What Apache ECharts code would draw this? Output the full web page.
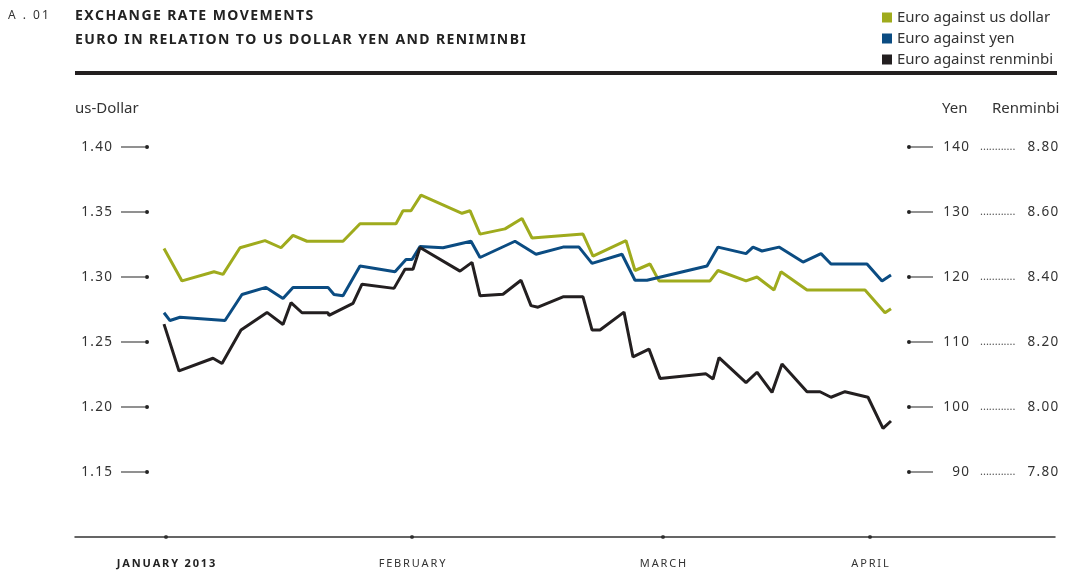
<!DOCTYPE html>
<html>
<head>
<meta charset="utf-8">
<title>Exchange rate movements</title>
<script src="https://cdn.jsdelivr.net/npm/echarts@6/dist/echarts.min.js"></script>
<style>
  html, body { margin: 0; padding: 0; background: #fff; }
  #chart { width: 1069px; height: 585px; }
</style>
</head>
<body>
<div id="chart"></div>
<script>
// position along the period (Jan = 0), month marks on the x axis
const monthTicks = [0, 24.6, 49.7, 70.4]
const monthNames = ['JANUARY 2013', 'FEBRUARY', 'MARCH', 'APRIL']

// euro against us dollar
const usdT = [-0.2, 1.6, 4.8, 5.7, 7.4, 9.9, 11.5, 12.7, 14.1, 17.7, 19.4, 23.0, 23.7, 24.5, 25.5, 29.6, 30.4, 31.4, 33.9, 35.6, 36.6, 41.7, 42.7, 46.0, 46.9, 48.4, 49.3, 54.4, 55.2, 58.0, 59.1, 60.8, 61.5, 64.1, 69.9, 71.9, 72.5]
const usdRate = [1.322, 1.297, 1.304, 1.302, 1.3225, 1.328, 1.3225, 1.332, 1.3275, 1.3275, 1.341, 1.341, 1.351, 1.351, 1.363, 1.349, 1.351, 1.333, 1.337, 1.345, 1.330, 1.333, 1.316, 1.328, 1.305, 1.310, 1.297, 1.297, 1.305, 1.297, 1.300, 1.290, 1.304, 1.290, 1.290, 1.2725, 1.2756]

// euro against yen
const yenT = [-0.2, 0.4, 1.4, 5.9, 7.6, 10.0, 11.7, 12.7, 16.2, 16.8, 17.7, 19.4, 22.9, 24.0, 24.6, 25.4, 27.7, 30.5, 31.4, 34.9, 37.0, 39.7, 41.3, 42.6, 45.6, 46.9, 48.1, 54.1, 55.2, 58.0, 58.7, 59.6, 61.3, 63.7, 65.5, 66.5, 70.1, 71.6, 72.5]
const yenRate = [114.5, 113.3, 113.8, 113.3, 117.3, 118.4, 116.7, 118.4, 118.4, 117.3, 117.1, 121.7, 120.8, 122.7, 122.7, 124.7, 124.5, 125.5, 123.0, 125.5, 123.5, 124.6, 124.6, 122.1, 123.5, 119.5, 119.5, 121.7, 124.6, 123.6, 124.6, 124.0, 124.6, 122.3, 123.6, 122.0, 122.0, 119.4, 120.3]

// euro against renminbi
const rmbT = [-0.2, 1.3, 4.7, 5.6, 7.5, 10.1, 11.7, 12.5, 13.6, 16.2, 16.3, 18.7, 19.6, 22.8, 23.9, 24.7, 25.4, 29.4, 30.6, 31.4, 33.7, 35.5, 36.5, 37.2, 39.7, 41.7, 42.6, 43.4, 45.8, 46.7, 48.3, 49.4, 54.0, 54.7, 55.3, 58.0, 59.1, 60.6, 61.6, 64.1, 65.4, 66.5, 67.9, 70.2, 71.7, 72.5]
const rmbRate = [8.255, 8.111, 8.150, 8.134, 8.237, 8.291, 8.254, 8.321, 8.290, 8.290, 8.282, 8.319, 8.378, 8.365, 8.424, 8.424, 8.491, 8.418, 8.445, 8.342, 8.347, 8.390, 8.312, 8.307, 8.339, 8.339, 8.237, 8.237, 8.292, 8.154, 8.178, 8.088, 8.102, 8.086, 8.152, 8.075, 8.107, 8.045, 8.132, 8.047, 8.047, 8.030, 8.047, 8.030, 7.934, 7.957]

const GREEN = '#9fab1d'
const BLUE = '#0b4c82'
const BLACK = '#231f20'
const TEXT = '#333'
const FONT = '"Noto Sans", "Open Sans", sans-serif'

const zip = (xs, ys) => xs.map((x, i) => [x, ys[i]])
// the original uses wide letter spacing, fake it with thin / hair spaces
const spaced = (s, sep) => s.split('').join(sep)
const THIN = '\u2009'
const HAIR = '\u200A'

// tick labels with the short line and dot drawn as rich text
const tickRich = {
  v: { fontSize: 13.5, color: TEXT, fontFamily: FONT, verticalAlign: 'middle' },
  vr: { fontSize: 13.5, color: TEXT, fontFamily: FONT, width: 36, align: 'right', verticalAlign: 'middle' },
  gap: { width: 9, height: 1, verticalAlign: 'middle' },
  gap2: { width: 12, height: 1, verticalAlign: 'middle' },
  ln: { width: 24, height: 1, backgroundColor: '#222', verticalAlign: 'middle' },
  lnR: { width: 22, height: 1, backgroundColor: '#222', verticalAlign: 'middle' },
  dot: { width: 4, height: 4, borderRadius: 2, backgroundColor: '#222', verticalAlign: 'middle' },
  dots: { fontSize: 11, color: '#555', fontFamily: FONT, verticalAlign: 'middle' }
}

const chart = echarts.init(document.getElementById('chart'))

chart.setOption({
  animation: false,
  textStyle: { fontFamily: FONT },
  graphic: [
    { type: 'text', left: 8, top: 10, style: { text: spaced('A . 01', THIN), fontSize: 12, fill: TEXT, fontFamily: FONT } },
    { type: 'text', left: 75, top: 9, style: { text: spaced('EXCHANGE RATE MOVEMENTS', HAIR), fontSize: 14, fontWeight: 'bold', fill: '#222', fontFamily: FONT } },
    { type: 'text', left: 75, top: 33, style: { text: spaced('EURO IN RELATION TO US DOLLAR YEN AND RENIMINBI', HAIR), fontSize: 14, fontWeight: 'bold', fill: '#222', fontFamily: FONT } },
    { type: 'rect', shape: { x: 75, y: 71, width: 982, height: 4 }, style: { fill: '#231f20' } },
    { type: 'text', left: 75, top: 101, style: { text: 'us-Dollar', fontSize: 15, fill: TEXT, fontFamily: FONT } },
    { type: 'text', left: 942, top: 101, style: { text: 'Yen', fontSize: 15, fill: TEXT, fontFamily: FONT } },
    { type: 'text', left: 992, top: 101, style: { text: 'Renminbi', fontSize: 15, fill: TEXT, fontFamily: FONT } }
  ],
  legend: {
    data: ['Euro against us dollar', 'Euro against yen', 'Euro against renminbi'],
    orient: 'vertical',
    left: 877,
    top: 5,
    icon: 'rect',
    itemWidth: 10,
    itemHeight: 10,
    itemGap: 6,
    textStyle: { fontSize: 15, color: TEXT, fontFamily: FONT }
  },
  grid: {
    left: 75,
    right: 14,
    top: 147,
    bottom: 48,
    containLabel: false,
    outerBoundsMode: 'none'
  },
  xAxis: {
    type: 'value',
    min: -9.1,
    max: 88.9,
    splitLine: { show: false },
    axisLine: { show: true, onZero: false, lineStyle: { color: '#333', width: 1.5 } },
    axisTick: { show: false },
    axisLabel: {
      customValues: monthTicks,
      margin: 21,
      formatter: (v) => {
        const i = monthTicks.indexOf(v)
        if (i < 0) return ''
        const s = spaced(monthNames[i], THIN)
        return i === 0 ? '{b|' + s + '}' : '{n|' + s + '}'
      },
      rich: {
        b: { fontSize: 11, fontWeight: 'bold', color: '#222', fontFamily: FONT },
        n: { fontSize: 11, color: TEXT, fontFamily: FONT }
      }
    }
  },
  yAxis: [
    {
      // us dollar
      type: 'value',
      position: 'left',
      offset: -80,
      min: 1.10,
      max: 1.40,
      interval: 0.05,
      splitLine: { show: false },
      axisLine: { show: false },
      axisTick: { show: false },
      axisLabel: {
        margin: 6,
        align: 'right',
        formatter: (v) => v < 1.12 ? '' : '{v|' + spaced(v.toFixed(2), HAIR) + '}{gap|}{ln|}{dot|}',
        rich: tickRich
      }
    },
    {
      // yen
      type: 'value',
      position: 'right',
      offset: -148,
      min: 80,
      max: 140,
      interval: 10,
      splitLine: { show: false },
      axisLine: { show: false },
      axisTick: { show: false },
      axisLabel: {
        margin: 0,
        align: 'left',
        formatter: (v) => v < 85 ? '' : '{dot|}{lnR|}{vr|' + spaced(String(v), HAIR) + '}',
        rich: tickRich
      }
    },
    {
      // renminbi
      type: 'value',
      position: 'right',
      offset: -75,
      min: 7.6,
      max: 8.8,
      interval: 0.2,
      splitLine: { show: false },
      axisLine: { show: false },
      axisTick: { show: false },
      axisLabel: {
        margin: 0,
        align: 'left',
        formatter: (v) => v < 7.7 ? '' : '{dots|............}{gap2|}{v|' + spaced(v.toFixed(2), HAIR) + '}',
        rich: tickRich
      }
    }
  ],
  series: [
    {
      name: 'Euro against us dollar',
      type: 'line',
      yAxisIndex: 0,
      data: zip(usdT, usdRate),
      showSymbol: false,
      lineStyle: { color: GREEN, width: 3 },
      itemStyle: { color: GREEN }
    },
    {
      name: 'Euro against yen',
      type: 'line',
      yAxisIndex: 1,
      data: zip(yenT, yenRate),
      showSymbol: false,
      lineStyle: { color: BLUE, width: 3 },
      itemStyle: { color: BLUE }
    },
    {
      name: 'Euro against renminbi',
      type: 'line',
      yAxisIndex: 2,
      data: zip(rmbT, rmbRate),
      showSymbol: false,
      lineStyle: { color: BLACK, width: 3 },
      itemStyle: { color: BLACK }
    },
    {
      // dots on the x axis at each month
      name: 'months',
      type: 'scatter',
      yAxisIndex: 0,
      data: monthTicks.map((t) => [t, 1.10]),
      symbolSize: 4,
      clip: false,
      silent: true,
      itemStyle: { color: '#222' }
    }
  ]
})
</script>
</body>
</html>
